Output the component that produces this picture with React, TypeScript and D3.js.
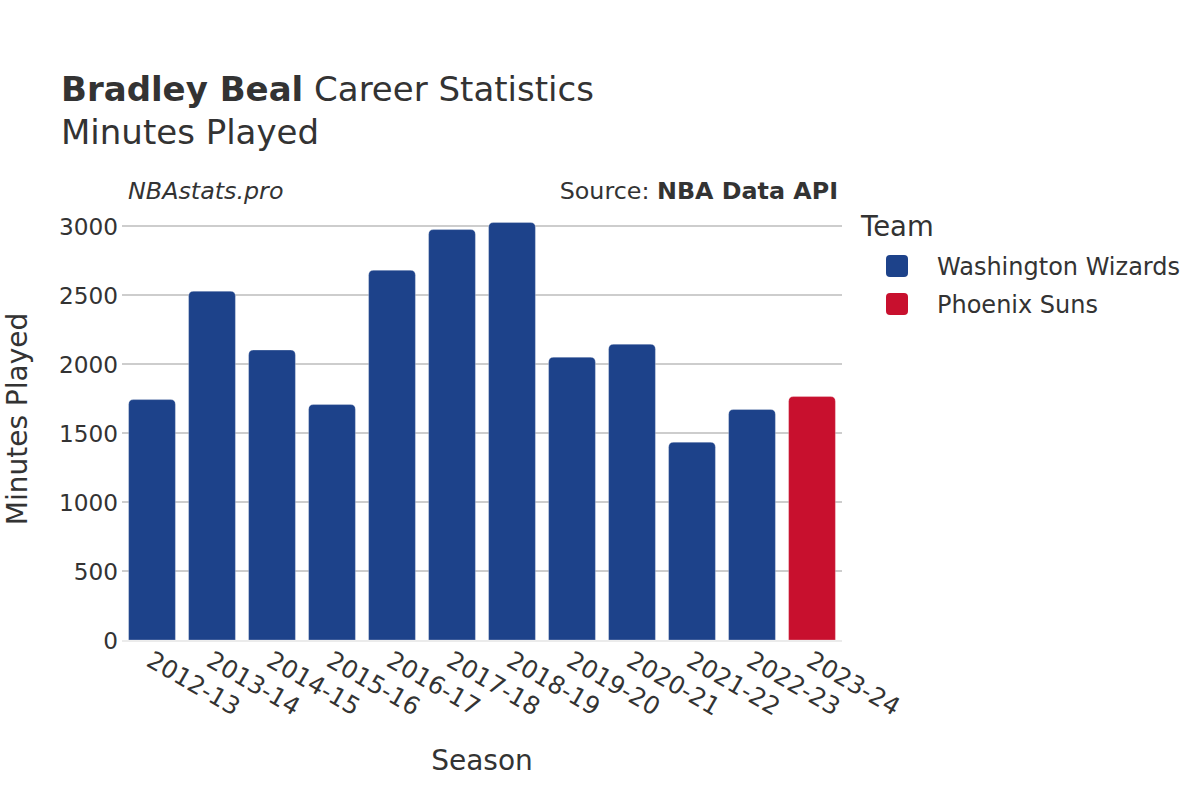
import React from "react";
import * as d3 from "d3";

const seasons = ["2012-13","2013-14","2014-15","2015-16","2016-17","2017-18","2018-19","2019-20","2020-21","2021-22","2022-23","2023-24"];
const minutes = [1742, 2527, 2101, 1706, 2679, 2974, 3025, 2049, 2143, 1433, 1670, 1764];
const teams = ["Washington Wizards","Washington Wizards","Washington Wizards","Washington Wizards","Washington Wizards","Washington Wizards","Washington Wizards","Washington Wizards","Washington Wizards","Washington Wizards","Washington Wizards","Phoenix Suns"];
const legendTeams = ["Washington Wizards", "Phoenix Suns"];
const teamColors = ["#1d428a", "#c8102e"];
const yTicks = [0, 500, 1000, 1500, 2000, 2500, 3000];

const FONT = "'DejaVu Sans', sans-serif";
const TXT = "#333";

function topRoundedRect(x: number, y: number, w: number, h: number, r: number) {
  const rr = Math.min(r, h / 2, w / 2);
  return `M${x},${y + h} L${x},${y + rr} Q${x},${y} ${x + rr},${y} L${x + w - rr},${y} Q${x + w},${y} ${x + w},${y + rr} L${x + w},${y + h} Z`;
}

export default function App() {
  const W = 1200, H = 800;
  const left = 122, right = 842, top = 226, bottom = 640;
  const x = d3.scaleBand<string>().domain(seasons).range([left, right]).paddingInner(0.22).paddingOuter(0.11);
  const y = d3.scaleLinear().domain([0, 3000]).range([bottom, top]);
  const color = d3.scaleOrdinal<string, string>().domain(legendTeams).range(teamColors);

  return (
    <svg width={W} height={H} style={{ display: "block", position: "absolute", left: 0, top: 0, background: "#fff" }} fontFamily={FONT}>
      <rect x={0} y={0} width={W} height={H} fill="#fff" />
      {/* Title */}
      <text x={61} y={101} fontSize={34} fill={TXT}>
        <tspan fontWeight="bold">Bradley Beal</tspan>
        <tspan> Career Statistics</tspan>
      </text>
      <text x={61} y={144} fontSize={34} fill={TXT}>Minutes Played</text>
      <text x={128} y={199} fontSize={23.8} fontStyle="italic" fill={TXT}>NBAstats.pro</text>
      <text x={838} y={199} fontSize={23.8} textAnchor="end" fill={TXT}>
        <tspan>Source: </tspan>
        <tspan fontWeight="bold">NBA Data API</tspan>
      </text>

      {/* grid */}
      {yTicks.map((t) => (
        <g key={t}>
          {t !== 0 && (
            <line x1={left} x2={right} y1={y(t)} y2={y(t)} stroke="#bdbdbd" strokeWidth={1.3} />
          )}
          <text x={118} y={y(t) + 8.5} fontSize={23.2} textAnchor="end" fill={TXT}>{t}</text>
        </g>
      ))}
      <line x1={left} x2={right} y1={y(0) + 1} y2={y(0) + 1} stroke="#ebebeb" strokeWidth={2} />

      {/* bars */}
      {seasons.map((s, i) => {
        const bx = x(s)!;
        const by = y(minutes[i]);
        const h = y(0) - by;
        return (
          <path key={s} d={topRoundedRect(bx, by, x.bandwidth(), h, 5)} fill={color(teams[i])}
            stroke="rgba(255,255,255,0.35)" strokeWidth={0.8} />
        );
      })}

      {/* x tick labels */}
      {seasons.map((s) => {
        const cx = x(s)! + x.bandwidth() / 2;
        return (
          <text key={s} transform={`translate(${cx - 7},${665}) rotate(30)`} fontSize={24.5} fill={TXT}>{s}</text>
        );
      })}

      {/* axis titles */}
      <text x={482} y={770} fontSize={28} textAnchor="middle" fill={TXT}>Season</text>
      <text transform={`translate(27,419) rotate(-90)`} fontSize={28} textAnchor="middle" fill={TXT}>Minutes Played</text>

      {/* legend */}
      <text x={861} y={236} fontSize={27.5} fill={TXT}>Team</text>
      {legendTeams.map((t, i) => (
        <g key={t}>
          <rect x={886} y={255 + i * 38} width={22} height={22} rx={4} fill={color(t)} />
          <text x={937} y={274.5 + i * 38} fontSize={24} fill={TXT}>{t}</text>
        </g>
      ))}
    </svg>
  );
}
